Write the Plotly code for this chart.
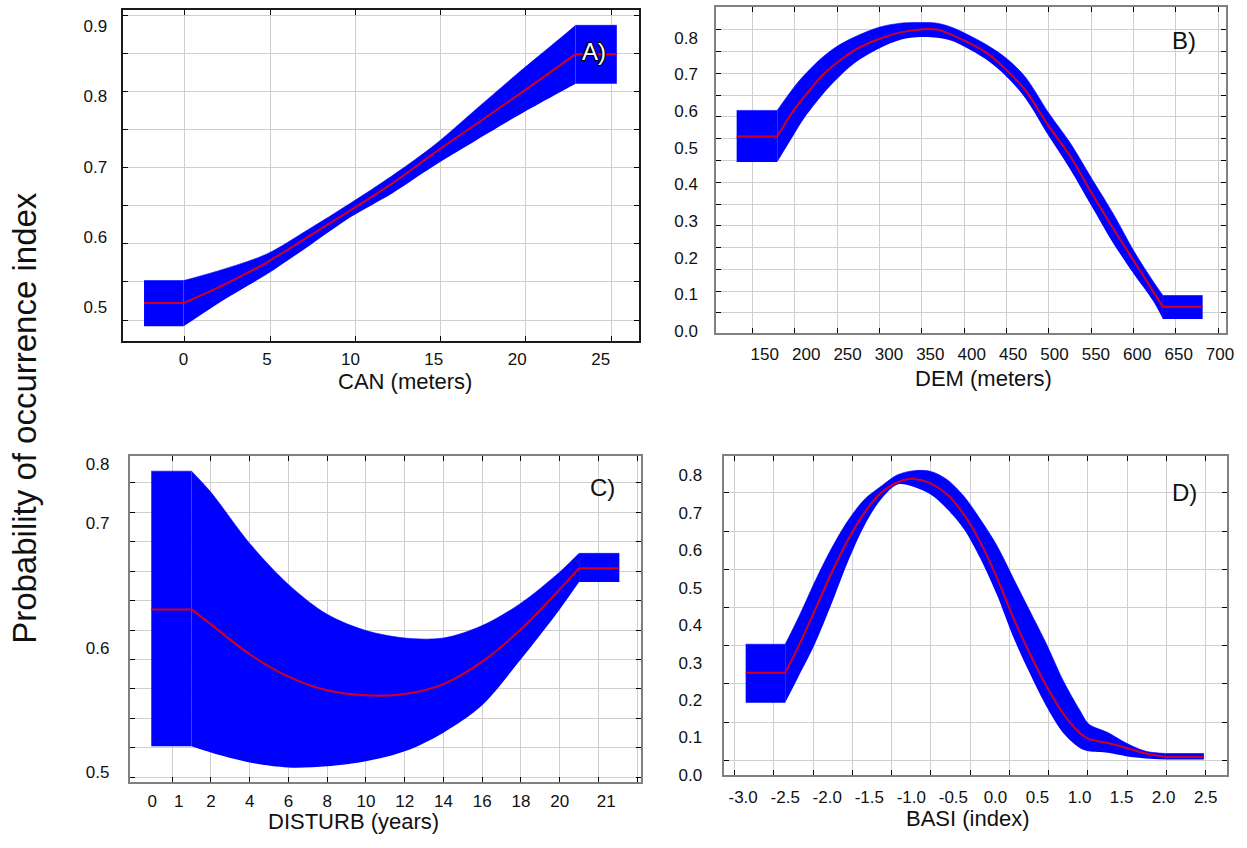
import plotly.graph_objects as go

W, H = 1247, 848
FONT = "Liberation Sans, Arial, sans-serif"

# ---------------- data ----------------
# A) CAN (meters)
CAN_X = [-2.37, 0, 2.5, 5, 7.5, 10, 12.5, 15, 17.5, 20, 22.5, 23.5, 25.97]
CAN_MEAN = [0.506, 0.506, 0.533, 0.564, 0.601, 0.638, 0.676, 0.719, 0.760, 0.801, 0.843, 0.860, 0.860]
CAN_UPPER = [0.538, 0.538, 0.555, 0.576, 0.611, 0.648, 0.687, 0.730, 0.781, 0.832, 0.881, 0.901, 0.901]
CAN_LOWER = [0.473, 0.473, 0.512, 0.547, 0.587, 0.628, 0.662, 0.701, 0.737, 0.772, 0.805, 0.818, 0.818]
CAN_XTICKS = [0, 5, 10, 15, 20, 25]
CAN_YTICKS = [0.5, 0.6, 0.7, 0.8, 0.9]

# B) DEM (meters)
DEM_X = [116, 165, 185.5, 198, 218, 236, 258, 288, 314, 339, 358, 378, 418, 442,
         464.5, 493, 518.5, 544, 570.5, 596, 618.5, 631, 679]
DEM_MEAN = [0.531, 0.531, 0.604, 0.640, 0.694, 0.730, 0.766, 0.797, 0.815, 0.823, 0.823, 0.806,
            0.759, 0.712, 0.658, 0.559, 0.479, 0.380, 0.281, 0.191, 0.111, 0.066, 0.066]
DEM_UPPER = [0.602, 0.602, 0.666, 0.699, 0.744, 0.775, 0.802, 0.829, 0.840, 0.842, 0.840, 0.827,
             0.781, 0.744, 0.694, 0.595, 0.515, 0.420, 0.322, 0.218, 0.138, 0.097, 0.097]
DEM_LOWER = [0.461, 0.461, 0.537, 0.582, 0.640, 0.685, 0.730, 0.771, 0.795, 0.802, 0.800, 0.790,
             0.740, 0.694, 0.636, 0.532, 0.443, 0.344, 0.241, 0.155, 0.084, 0.033, 0.033]
DEM_XTICKS = [150, 200, 250, 300, 350, 400, 450, 500, 550, 600, 650, 700]
DEM_YTICKS = [0.0, 0.1, 0.2, 0.3, 0.4, 0.5, 0.6, 0.7, 0.8]

# C) DISTURB (years)
DIST_X = [-1.08, 1.0, 2, 4, 6, 8, 10, 12, 14, 16, 18, 20, 21, 23.08]
DIST_MEAN = [0.631, 0.631, 0.619, 0.595, 0.577, 0.566, 0.562, 0.563, 0.571, 0.589, 0.615, 0.647, 0.664, 0.664]
DIST_UPPER = [0.742, 0.742, 0.725, 0.684, 0.651, 0.627, 0.614, 0.608, 0.608, 0.618, 0.636, 0.661, 0.676, 0.676]
DIST_LOWER = [0.521, 0.521, 0.516, 0.508, 0.504, 0.505, 0.509, 0.517, 0.532, 0.554, 0.591, 0.631, 0.653, 0.653]
DIST_XTICKVALS = [-1.03, 0.34, 2, 4, 6, 8, 10, 12, 14, 16, 18, 20, 22.4]
DIST_XTICKTEXT = ["0", "1", "2", "4", "6", "8", "10", "12", "14", "16", "18", "20", "21"]
DIST_YTICKVALS = [0.5, 0.6, 0.7, 0.748]
DIST_YTICKTEXT = ["0.5", "0.6", "0.7", "0.8"]

# D) BASI (index)
BASI_X = [-2.97, -2.50, -2.345, -2.148, -1.952, -1.755, -1.558, -1.361, -1.164, -0.967, -0.770,
          -0.573, -0.377, -0.180, 0.017, 0.214, 0.411, 0.608, 0.805, 1.002, 1.108, 1.337,
          1.553, 1.789, 2.026, 2.478]
BASI_MEAN = [0.273, 0.273, 0.342, 0.439, 0.538, 0.627, 0.701, 0.753, 0.782, 0.791, 0.779, 0.749,
             0.696, 0.622, 0.527, 0.419, 0.323, 0.237, 0.164, 0.112, 0.096, 0.085, 0.072, 0.057,
             0.048, 0.048]
BASI_UPPER = [0.349, 0.349, 0.419, 0.516, 0.604, 0.679, 0.736, 0.771, 0.802, 0.813, 0.811, 0.789,
              0.745, 0.683, 0.613, 0.525, 0.437, 0.349, 0.252, 0.173, 0.136, 0.113, 0.085, 0.063,
              0.057, 0.057]
BASI_LOWER = [0.193, 0.193, 0.261, 0.349, 0.455, 0.569, 0.666, 0.736, 0.776, 0.769, 0.749, 0.710,
              0.657, 0.578, 0.481, 0.367, 0.270, 0.182, 0.112, 0.072, 0.063, 0.059, 0.050, 0.044,
              0.041, 0.041]
BASI_XTICKS = [-3.0, -2.5, -2.0, -1.5, -1.0, -0.5, 0.0, 0.5, 1.0, 1.5, 2.0, 2.5]
BASI_YTICKS = [0.0, 0.1, 0.2, 0.3, 0.4, 0.5, 0.6, 0.7, 0.8]

X_TITLES = ["CAN (meters)", "DEM (meters)", "DISTURB (years)", "BASI (index)"]
PANEL_LETTERS = ["A)", "B)", "C)", "D)"]
Y_TITLE = "Probability of occurrence index"


def fmt1(v):
    return f"{v:.1f}"


def grid(start, step, n):
    return [start + step * k for k in range(n)]


def px_x(p):
    return min(1.0, max(0.0, p / W))


def px_y(p):
    return min(1.0, max(0.0, 1 - p / H))


panels = [
    dict(x=CAN_X, m=CAN_MEAN, u=CAN_UPPER, l=CAN_LOWER,
         dom_x=(123.3, 643.3), dom_y=(9.3, 344),
         xr=[-3.66, 27.31], yr=[0.4528, 0.9225],
         xtv=CAN_XTICKS, xtt=[str(v) for v in CAN_XTICKS],
         ytv=CAN_YTICKS, ytt=[fmt1(v) for v in CAN_YTICKS],
         xgrid=grid(0.076, 5.110, 6), ygrid=grid(0.9155, -0.05421, 9),
         xstand=2, ystand=10, line="#1a1a1a"),
    dict(x=DEM_X, m=DEM_MEAN, u=DEM_UPPER, l=DEM_LOWER,
         dom_x=(721, 1234), dom_y=(6, 336.7),
         xr=[91.5, 707.3], yr=[-0.0062, 0.8844],
         xtv=DEM_XTICKS, xtt=[str(v) for v in DEM_XTICKS],
         ytv=DEM_YTICKS, ytt=[fmt1(v) for v in DEM_YTICKS],
         xgrid=grid(135.05, 51.15, 12), ygrid=grid(0.8217, -0.05939, 14),
         xstand=4, ystand=13, line="#808080"),
    dict(x=DIST_X, m=DIST_MEAN, u=DIST_UPPER, l=DIST_LOWER,
         dom_x=(130.7, 645), dom_y=(460.7, 791),
         xr=[-2.185, 24.19], yr=[0.4926, 0.7544],
         xtv=DIST_XTICKVALS, xtt=DIST_XTICKTEXT,
         ytv=DIST_YTICKVALS, ytt=DIST_YTICKTEXT,
         xgrid=grid(0, 2, 13), ygrid=grid(0.7325, -0.02363, 11),
         xstand=3, ystand=15, line="#808080"),
    dict(x=BASI_X, m=BASI_MEAN, u=BASI_UPPER, l=BASI_LOWER,
         dom_x=(728.3, 1235), dom_y=(461, 784.2),
         xr=[-3.232, 2.754], yr=[-0.0005, 0.8521],
         xtv=BASI_XTICKS, xtt=[fmt1(v) for v in BASI_XTICKS],
         ytv=BASI_YTICKS, ytt=[fmt1(v) for v in BASI_YTICKS],
         xgrid=grid(-3.1018, 0.46663, 13), ygrid=grid(0.7537, -0.10212, 8),
         xstand=6, ystand=16, line="#808080"),
]

BLUE = "#0000ff"
RED = "#d2001e"

fig = go.Figure()
layout = dict(
    width=W, height=H, margin=dict(l=0, r=0, t=0, b=0),
    paper_bgcolor="white", plot_bgcolor="white", showlegend=False,
    font=dict(family=FONT, color="#111111"),
)


def band(fig, xs, lo, hi, shape, xa, ya):
    fig.add_trace(go.Scatter(x=xs, y=lo, mode="lines", line=dict(width=0, color=BLUE, shape=shape, smoothing=0.9),
                             xaxis=xa, yaxis=ya, hoverinfo="skip"))
    fig.add_trace(go.Scatter(x=xs, y=hi, mode="lines", fill="tonexty", fillcolor=BLUE,
                             line=dict(width=0.6, color=BLUE, shape=shape, smoothing=0.9),
                             xaxis=xa, yaxis=ya, hoverinfo="skip"))


for i, p in enumerate(panels):
    s = "" if i == 0 else str(i + 1)
    xa, ya = "x" + s, "y" + s
    x, m, u, l = p["x"], p["m"], p["u"], p["l"]
    # flat left part, smooth middle, flat right part
    parts = [(slice(0, 2), "linear"), (slice(1, len(x) - 1), "spline"), (slice(len(x) - 2, len(x)), "linear")]
    for sl, shape in parts:
        band(fig, x[sl], l[sl], u[sl], shape, xa, ya)
    for sl, shape in parts:
        fig.add_trace(go.Scatter(x=x[sl], y=m[sl], mode="lines",
                                 line=dict(color=RED, width=2, shape=shape, smoothing=0.9),
                                 xaxis=xa, yaxis=ya))

    common = dict(
        showgrid=False, zeroline=False, ticks="", tickangle=0,
        tickfont=dict(size=17, family=FONT, color="#111111"),
        showline=True, linewidth=2, linecolor=p["line"], mirror="allticks",
        tickmode="array",
    )
    minor_base = dict(tickmode="array", showgrid=True, gridcolor="#cfcfcf", gridwidth=1.2,
                      ticks="inside", ticklen=5, tickwidth=1, tickcolor="#000000")
    layout["xaxis" + s] = dict(
        common, domain=[px_x(p["dom_x"][0]), px_x(p["dom_x"][1])],
        range=p["xr"], anchor=ya, tickvals=p["xtv"], ticktext=p["xtt"],
        ticklabelstandoff=p["xstand"],
        minor=dict(minor_base, tickvals=p["xgrid"]))
    layout["yaxis" + s] = dict(
        common, domain=[px_y(p["dom_y"][1]), px_y(p["dom_y"][0])],
        range=p["yr"], anchor=xa, tickvals=p["ytv"], ticktext=p["ytt"],
        ticklabelstandoff=p["ystand"],
        minor=dict(minor_base, tickvals=p["ygrid"]))

ann = []
title_pos = [(408, 386), (989.5, 382), (356, 831), (974, 828)]
for t, (xp, yp) in zip(X_TITLES, title_pos):
    ann.append(dict(text=t, x=px_x(xp), y=px_y(yp), xref="paper", yref="paper",
                    xanchor="center", yanchor="middle", showarrow=False,
                    font=dict(size=22, family=FONT, color="#111111")))

letter_pos = [(597.5, 51), (1191.7, 40), (606, 493.3), (1191.7, 498.3)]
for k, (t, (xp, yp)) in enumerate(zip(PANEL_LETTERS, letter_pos)):
    f = dict(size=24, family=FONT, color="#111111")
    if k == 0:
        f = dict(size=24, family=FONT, color="#ffffff",
                 shadow="-1px -1px 0 #000, 1px -1px 0 #000, -1px 1px 0 #000, 1px 1px 0 #000")
    ann.append(dict(text=t, x=px_x(xp), y=px_y(yp), xref="paper", yref="paper",
                    xanchor="center", yanchor="middle", showarrow=False, font=f))

ann.append(dict(text=Y_TITLE, x=px_x(24), y=px_y(422.5), xref="paper", yref="paper",
                xanchor="center", yanchor="middle", showarrow=False, textangle=-90,
                font=dict(size=33, family=FONT, color="#111111")))

layout["annotations"] = ann
fig.update_layout(**layout)
fig.write_html(
    "out.html",
    config={"displayModeBar": False},
    post_script="document.body.style.margin='0px';document.body.style.overflow='hidden';",
)
